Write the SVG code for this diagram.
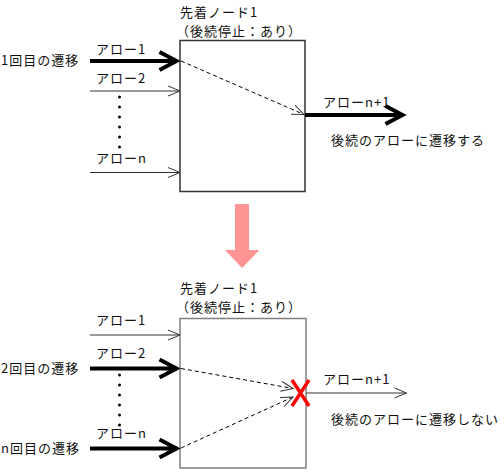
<svg xmlns="http://www.w3.org/2000/svg" width="504" height="472" viewBox="0 0 504 472">
<style>
text{font-family:"Noto Sans CJK JP","Noto Sans CJK SC",sans-serif;font-size:13px;letter-spacing:1px;fill:#111}
.box{fill:#fff;stroke-width:1.5}
.thick{stroke:#000;stroke-width:4;fill:none}
.thin{stroke:#333;stroke-width:1;fill:none}
.dash{stroke:#000;stroke-width:1;stroke-dasharray:4 3;fill:none}
.dot{fill:#000}
</style>
<defs>
<marker id="mThick" markerUnits="userSpaceOnUse" orient="auto" refX="0" refY="0" markerWidth="40" markerHeight="40" viewBox="-30 -20 40 40" overflow="visible">
<path d="M-17,-9 L0,0 L-17,9" fill="none" stroke="#000" stroke-width="4" stroke-dasharray="none"/>
</marker>
<marker id="mThin" markerUnits="userSpaceOnUse" orient="auto" refX="0" refY="0" markerWidth="30" markerHeight="30" viewBox="-20 -15 30 30" overflow="visible">
<path d="M-12,-5 L0,0 L-12,5" fill="none" stroke="#333" stroke-width="1" stroke-dasharray="none"/>
</marker>
</defs>

<g id="node-top">
<rect class="box" x="180" y="40.5" width="125" height="151" stroke="#333"/>
<text x="180" y="17">先着ノード1</text>
<text x="176" y="36">（後続停止：あり）</text>
</g>

<g id="node-bottom">
<rect class="box" x="180" y="318.5" width="126" height="149.5" stroke="#808080"/>
<text x="180" y="293">先着ノード1</text>
<text x="176" y="312">（後続停止：あり）</text>
</g>

<g id="labels-top">
<text x="1" y="65">1回目の遷移</text>
<text x="96" y="54">アロー1</text>
<text x="96" y="83">アロー2</text>
<text x="96" y="163">アローn</text>
<text x="323" y="107">アローn+1</text>
<text x="331" y="145">後続のアローに遷移する</text>
</g>

<g id="labels-bottom">
<text x="96" y="325">アロー1</text>
<text x="1" y="373">2回目の遷移</text>
<text x="96" y="358">アロー2</text>
<text x="1" y="453">n回目の遷移</text>
<text x="96" y="438">アローn</text>
<text x="323" y="384">アローn+1</text>
<text x="331" y="424">後続のアローに遷移しない</text>
</g>

<g id="connectors">
<line class="thick" x1="90" y1="61" x2="176.5" y2="61" marker-end="url(#mThick)"/>
<line class="thin" x1="90" y1="91" x2="180" y2="91" marker-end="url(#mThin)"/>
<line class="thin" x1="90" y1="172.5" x2="180" y2="172.5" marker-end="url(#mThin)"/>
<line class="dash" x1="181" y1="61" x2="304" y2="114.5" marker-end="url(#mThin)"/>
<line class="thick" x1="305" y1="115" x2="402.5" y2="115" marker-end="url(#mThick)"/>

<line class="thin" x1="90" y1="335" x2="180" y2="335" marker-end="url(#mThin)"/>
<line class="thick" x1="90" y1="368.5" x2="176.5" y2="368.5" marker-end="url(#mThick)"/>
<line class="thick" x1="90" y1="448.5" x2="176.5" y2="448.5" marker-end="url(#mThick)"/>
<line class="dash" x1="181" y1="368.5" x2="293" y2="388.5" marker-end="url(#mThin)"/>
<line class="dash" x1="181" y1="448" x2="293" y2="397" marker-end="url(#mThin)"/>
<line class="thin" x1="306" y1="393" x2="406.5" y2="393" marker-end="url(#mThin)"/>
</g>

<g id="ellipsis-top">
<circle class="dot" cx="119.5" cy="97" r="1.5"/>
<circle class="dot" cx="119.5" cy="107" r="1.5"/>
<circle class="dot" cx="119.5" cy="117" r="1.5"/>
<circle class="dot" cx="119.5" cy="127" r="1.5"/>
<circle class="dot" cx="119.5" cy="137" r="1.5"/>
<circle class="dot" cx="119.5" cy="147" r="1.5"/>
</g>
<g id="ellipsis-bottom">
<circle class="dot" cx="119.5" cy="375" r="1.5"/>
<circle class="dot" cx="119.5" cy="385" r="1.5"/>
<circle class="dot" cx="119.5" cy="395" r="1.5"/>
<circle class="dot" cx="119.5" cy="405" r="1.5"/>
<circle class="dot" cx="119.5" cy="415" r="1.5"/>
<circle class="dot" cx="119.5" cy="425" r="1.5"/>
</g>

<g id="block-x">
<path d="M292,380 L309,406 M309,380 L292,406" stroke="#ff0000" stroke-width="3.5" fill="none"/>
</g>

<g id="transition-arrow">
<polygon points="235,204 249,204 249,250 259.5,250 242,268 225,250 235,250" fill="#ff9494"/>
</g>
</svg>
